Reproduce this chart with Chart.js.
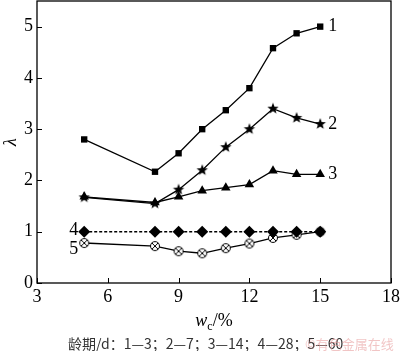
<!DOCTYPE html>
<html>
<head>
<meta charset="utf-8">
<script src="https://cdn.jsdelivr.net/npm/chart.js@4/dist/chart.umd.min.js"></script>
<style>
  body { margin: 0; background: #fff; }
  canvas { display: block; }
</style>
</head>
<body>
<canvas id="chart" width="400" height="351"></canvas>
<script>
const wc = [5, 8, 9, 10, 11, 12, 13, 14, 15];
const age3 = [2.8, 2.17, 2.53, 3.0, 3.37, 3.8, 4.58, 4.87, 5.0];
const age7 = [1.67, 1.55, 1.82, 2.2, 2.65, 3.0, 3.4, 3.22, 3.1];
const age14 = [1.68, 1.57, 1.68, 1.8, 1.86, 1.92, 2.19, 2.12, 2.12];
const age28 = [1, 1, 1, 1, 1, 1, 1, 1, 1];
const age60 = [0.78, 0.72, 0.62, 0.58, 0.68, 0.77, 0.88, 0.94, 1.0];
const xTicks = [3, 6, 9, 12, 15, 18];
const yTicks = [0, 1, 2, 3, 4, 5];
const curveNames = ['1', '2', '3', '4', '5'];
const footer = '龄期/d：1—3；2—7；3—14；4—28；5—60';

const serif = '"Liberation Serif", "DejaVu Serif", serif';

// custom marker glyphs
function starMarker(r) {
    const c = document.createElement('canvas');
    c.width = c.height = r * 2 + 2;
    const g = c.getContext('2d');
    g.translate(r + 1, r + 1);
    g.beginPath();
    for (let i = 0; i < 10; i++) {
        const rad = i % 2 ? r * 0.42 : r;
        const a = -Math.PI / 2 + i * Math.PI / 5;
        g.lineTo(rad * Math.cos(a), rad * Math.sin(a));
    }
    g.closePath();
    g.fillStyle = '#000';
    g.fill();
    return c;
}

function circleX(r) {
    const c = document.createElement('canvas');
    c.width = c.height = r * 2 + 2;
    const g = c.getContext('2d');
    g.translate(r + 1, r + 1);
    g.strokeStyle = '#000';
    g.lineWidth = 1;
    g.beginPath();
    g.arc(0, 0, r - 0.5, 0, Math.PI * 2);
    g.fillStyle = '#fff';
    g.fill();
    g.stroke();
    const d = (r - 0.5) * 0.7;
    g.beginPath();
    g.moveTo(-d, -d); g.lineTo(d, d);
    g.moveTo(d, -d); g.lineTo(-d, d);
    g.stroke();
    return c;
}

const toPts = ys => wc.map((x, i) => ({ x, y: ys[i] }));

const base = {
    borderColor: '#000',
    backgroundColor: '#000',
    borderWidth: 1.3,
    pointBorderColor: '#000',
    pointBackgroundColor: '#000',
    pointBorderWidth: 0,
    tension: 0,
    fill: false
};

// frame, inward ticks, series labels, axis title and footer
const decor = {
    id: 'decor',
    afterDraw(chart) {
        const { ctx, chartArea: a, scales: { x, y } } = chart;
        ctx.save();
        ctx.strokeStyle = '#000';
        ctx.lineWidth = 1.3;
        ctx.strokeRect(a.left, a.top, a.right - a.left, a.bottom - a.top);
        ctx.lineWidth = 1;
        ctx.beginPath();
        xTicks.forEach(v => {
            const px = Math.round(x.getPixelForValue(v)) + 0.5;
            ctx.moveTo(px, a.bottom); ctx.lineTo(px, a.bottom - 5);
        });
        yTicks.forEach(v => {
            const py = Math.round(y.getPixelForValue(v)) + 0.5;
            ctx.moveTo(a.left, py); ctx.lineTo(a.left + 5, py);
        });
        ctx.stroke();

        ctx.fillStyle = '#000';
        ctx.font = '18px ' + serif;
        ctx.textBaseline = 'middle';
        const last = wc.length - 1;
        ctx.textAlign = 'left';
        ctx.fillText(curveNames[0], x.getPixelForValue(wc[last]) + 8, y.getPixelForValue(age3[last]));
        ctx.fillText(curveNames[1], x.getPixelForValue(wc[last]) + 8, y.getPixelForValue(age7[last]));
        ctx.fillText(curveNames[2], x.getPixelForValue(wc[last]) + 8, y.getPixelForValue(age14[last]));
        ctx.textAlign = 'right';
        ctx.fillText(curveNames[3], x.getPixelForValue(wc[0]) - 6, y.getPixelForValue(age28[0]) - 1);
        ctx.fillText(curveNames[4], x.getPixelForValue(wc[0]) - 6, y.getPixelForValue(age60[0]) + 6);

        // x axis title: w_c/%
        const cx = (a.left + a.right) / 2;
        ctx.textAlign = 'left';
        ctx.textBaseline = 'alphabetic';
        ctx.font = 'italic 18px ' + serif;
        const wW = ctx.measureText('w').width;
        ctx.font = '12px ' + serif;
        const cW = ctx.measureText('c').width;
        ctx.font = '18px ' + serif;
        const rW = ctx.measureText('/%').width;
        let sx = cx - (wW + cW + rW) / 2;
        const by = 326;
        ctx.font = 'italic 18px ' + serif;
        ctx.fillText('w', sx, by);
        ctx.font = '12px ' + serif;
        ctx.fillText('c', sx + wW, by + 4);
        ctx.font = '18px ' + serif;
        ctx.fillText('/%', sx + wW + cW, by);

        ctx.font = '14px "Noto Sans CJK SC", ' + serif;
        ctx.textAlign = 'left';
        ctx.fillStyle = '#333';
        ctx.fillText(footer, 68, 349);
        ctx.fillStyle = 'rgba(230,150,150,0.55)';
        ctx.font = '13px "Noto Sans CJK SC", sans-serif';
        ctx.fillText('©有色金属在线', 305, 349);
        ctx.restore();
    }
};

new Chart(document.getElementById('chart'), {
    type: 'line',
    data: {
        datasets: [
            { ...base, label: curveNames[0], data: toPts(age3), pointStyle: 'rect', pointRadius: 4.5 },
            { ...base, label: curveNames[1], data: toPts(age7), pointStyle: starMarker(6), pointRadius: 6 },
            { ...base, label: curveNames[2], data: toPts(age14), pointStyle: 'triangle', pointRadius: 5.5 },
            { ...base, label: curveNames[3], data: toPts(age28), pointStyle: 'rectRot', pointRadius: 6, borderDash: [3, 2] },
            { ...base, label: curveNames[4], data: toPts(age60), pointStyle: circleX(5), pointRadius: 5 }
        ]
    },
    options: {
        responsive: false,
        animation: false,
        layout: { autoPadding: false, padding: { top: 1, right: 9, left: 0, bottom: 0 } },
        plugins: { legend: { display: false }, tooltip: { enabled: false } },
        scales: {
            x: {
                type: 'linear',
                min: 3,
                max: 18,
                afterBuildTicks: s => { s.ticks = xTicks.map(v => ({ value: v })); },
                afterFit: s => { s.height = 68; s.paddingLeft = 0; s.paddingRight = 0; },
                grid: { display: false, drawTicks: false },
                border: { display: false },
                ticks: { color: '#000', font: { family: serif, size: 18 }, padding: 3, maxRotation: 0 }
            },
            y: {
                min: 0,
                max: 5.5,
                afterBuildTicks: s => { s.ticks = yTicks.map(v => ({ value: v })); },
                afterFit: s => { s.width = 37; s.paddingTop = 0; s.paddingBottom = 0; },
                grid: { display: false, drawTicks: false },
                border: { display: false },
                title: { display: true, text: 'λ', color: '#000', font: { family: serif, size: 18, style: 'italic' }, padding: 0 },
                ticks: { color: '#000', font: { family: serif, size: 18 }, padding: 4 }
            }
        }
    },
    plugins: [decor]
});
</script>
</body>
</html>
